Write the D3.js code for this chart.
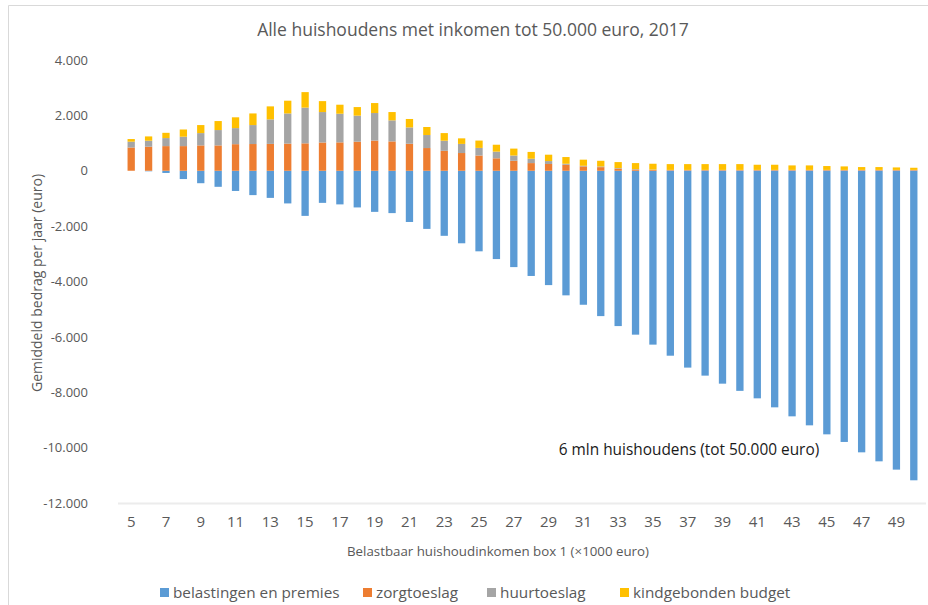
<!DOCTYPE html>
<html>
<head>
<meta charset="utf-8">
<script src="https://cdn.jsdelivr.net/npm/d3@7"></script>
<style>
  body { margin: 0; background: #fff; }
  svg text { font-family: "Open Sans", "Noto Sans", sans-serif; fill: #595959; }
</style>
</head>
<body>
<div id="chart"></div>
<script>
// inkomen box 1 (x1000 euro)
const incomes = d3.range(5, 51);
const seriesNames = ["belastingen en premies", "zorgtoeslag", "huurtoeslag", "kindgebonden budget"];

const belastingen = [0, -20, -80, -300, -450, -580, -730, -880, -980, -1180, -1630, -1160, -1215, -1325,
  -1485, -1530, -1850, -2100, -2350, -2620, -2910, -3190, -3480, -3800, -4130, -4500, -4840, -5250,
  -5610, -5920, -6280, -6680, -7110, -7400, -7690, -7950, -8220, -8545, -8870, -9195, -9520, -9795,
  -10170, -10495, -10795, -11180];
const zorgtoeslag = [840, 870, 890, 890, 915, 915, 960, 965, 970, 980, 990, 1020, 1025, 1050,
  1090, 1060, 975, 820, 720, 640, 550, 450, 360, 277, 245, 215, 157, 130,
  72, 45, 30, 20, 20, 20, 20, 20, 20, 20, 20, 20, 20, 20,
  20, 20, 20, 20];
const huurtoeslag = [210, 215, 290, 340, 445, 555, 580, 685, 885, 1090, 1290, 1100, 1035, 940,
  995, 760, 590, 470, 365, 330, 275, 240, 190, 158, 105, 38, 23, 25,
  23, 15, 12, 10, 10, 10, 10, 10, 10, 10, 10, 10, 10, 10,
  10, 10, 10, 10];
const kindgebonden = [95, 155, 190, 260, 290, 325, 390, 420, 470, 460, 560, 395, 325, 310,
  360, 300, 305, 290, 275, 200, 265, 250, 250, 245, 230, 242, 220, 205,
  218, 217, 211, 210, 210, 210, 210, 210, 187, 187, 163, 163, 140, 127,
  103, 103, 90, 78];
const yTicks = [4000, 2000, 0, -2000, -4000, -6000, -8000, -10000, -12000];
const xTickLabels = incomes.filter(d => d % 2 === 1);
const colors = ["#5B9BD5", "#ED7D31", "#A5A5A5", "#FFC000"];

const rows = incomes.map((inc, i) => ({
  inc,
  [seriesNames[0]]: belastingen[i],
  [seriesNames[1]]: zorgtoeslag[i],
  [seriesNames[2]]: huurtoeslag[i],
  [seriesNames[3]]: kindgebonden[i]
}));

const width = 928, height = 605;
const svg = d3.select("#chart").append("svg")
  .attr("width", width)
  .attr("height", height);

// chart border (top + left visible)
svg.append("path")
  .attr("d", "M8.5,940 V5.5 H940")
  .attr("fill", "none")
  .attr("stroke", "#d9d9d9");

const x = d3.scaleBand()
  .domain(incomes)
  .range([122.5, 922.5])
  .paddingInner(0.58)
  .paddingOuter(0.29);

const y = d3.scaleLinear()
  .domain([-12000, 4000])
  .range([503, 60]);

const nl = d3.formatLocale({ decimal: ",", thousands: ".", grouping: [3], currency: ["€", ""], minus: "-" });
const fmt = nl.format(",");

// faint base line
svg.append("line")
  .attr("x1", 118).attr("x2", 926)
  .attr("y1", y(-12000) + 0.5).attr("y2", y(-12000) + 0.5)
  .attr("stroke", "#ececec")
  .attr("stroke-width", 2);

// y axis
const yAxis = svg.append("g")
  .attr("transform", "translate(92,0)")
  .call(d3.axisLeft(y).tickValues(yTicks).tickFormat(fmt).tickSize(0).tickPadding(4));
yAxis.select(".domain").remove();
yAxis.selectAll("text").style("font-size", "13px").attr("fill", "#595959");

// x axis (labels at the bottom)
const xAxis = svg.append("g")
  .attr("transform", "translate(0,514)")
  .call(d3.axisBottom(x).tickValues(xTickLabels).tickSize(0).tickPadding(2));
xAxis.select(".domain").remove();
xAxis.selectAll("text").style("font-size", "15px").attr("fill", "#595959");

// stacked bars
const stack = d3.stack().keys(seriesNames).offset(d3.stackOffsetDiverging);
const stacked = stack(rows);

svg.append("g")
  .selectAll("g")
  .data(stacked)
  .join("g")
  .attr("fill", (d, i) => colors[i])
  .selectAll("rect")
  .data(d => d)
  .join("rect")
  .attr("x", d => x(d.data.inc))
  .attr("width", x.bandwidth())
  .attr("y", d => y(d[1]))
  .attr("height", d => Math.max(0, y(d[0]) - y(d[1])));

// title
svg.append("text")
  .attr("x", 473)
  .attr("y", 36)
  .attr("text-anchor", "middle")
  .style("font-size", "17.5px")
  .text("Alle huishoudens met inkomen tot 50.000 euro, 2017");

// axis titles
svg.append("text")
  .attr("x", 498)
  .attr("y", 556)
  .attr("text-anchor", "middle")
  .style("font-size", "13.3px")
  .text("Belastbaar huishoudinkomen box 1 (×1000 euro)");

svg.append("text")
  .attr("transform", "translate(42,283) rotate(-90)")
  .attr("text-anchor", "middle")
  .style("font-size", "14px")
  .text("Gemiddeld bedrag per jaar (euro)");

// annotation
svg.append("text")
  .attr("x", 689)
  .attr("y", 455)
  .attr("text-anchor", "middle")
  .style("font-size", "15.4px")
  .style("fill", "#1a1a1a")
  .text("6 mln huishoudens (tot 50.000 euro)");

// legend
const legendX = [160, 363, 487, 620];
const legend = svg.append("g")
  .selectAll("g")
  .data(seriesNames)
  .join("g")
  .attr("transform", (d, i) => `translate(${legendX[i]},593)`);
legend.append("rect")
  .attr("x", 0).attr("y", -5)
  .attr("width", 9).attr("height", 9)
  .attr("fill", (d, i) => colors[i]);
legend.append("text")
  .attr("x", 13)
  .attr("y", 5)
  .style("font-size", "15.3px")
  .text(d => d);
</script>
</body>
</html>
